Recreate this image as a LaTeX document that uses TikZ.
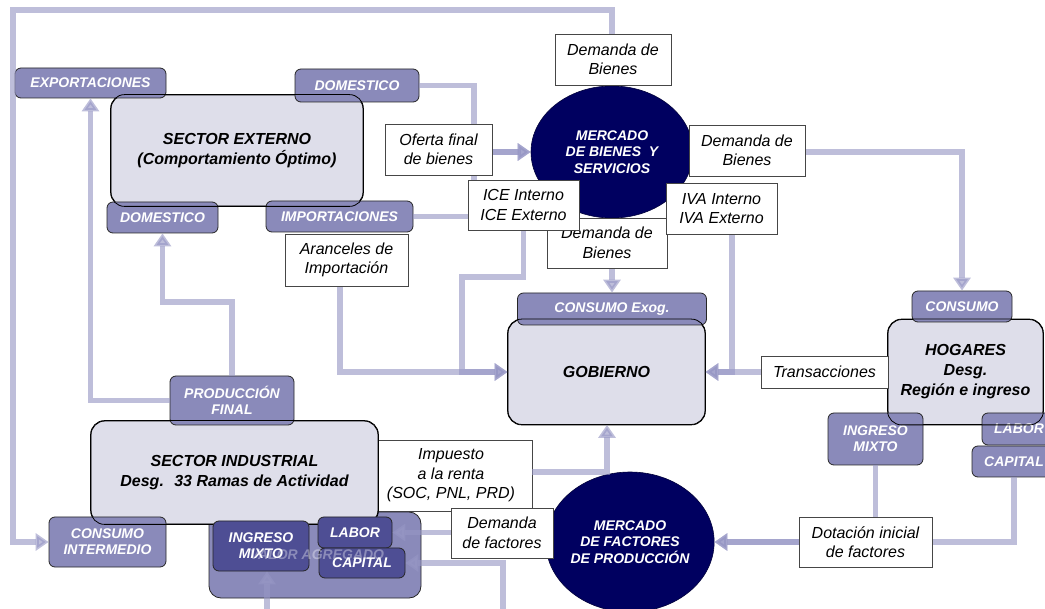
\documentclass[tikz,border=0pt]{standalone}
\usepackage{fontspec}
\setmainfont{Liberation Sans}
\usetikzlibrary{arrows.meta,shapes.geometric}
\definecolor{mainfill}{RGB}{222,222,234}
\definecolor{tagfill}{RGB}{138,138,186}
\definecolor{darktag}{RGB}{78,78,148}
\definecolor{navyc}{RGB}{0,0,96}
\definecolor{flowc}{RGB}{150,150,196}
\definecolor{lblborder}{RGB}{70,70,70}
\pgfdeclarelayer{back}
\pgfdeclarelayer{boxes}
\pgfdeclarelayer{flows}
\pgfsetlayers{back,boxes,flows,main}
\begin{document}
\begin{tikzpicture}[x=1pt,y=-1pt,
  mainbox/.style={draw=black, line width=0.8pt, fill=mainfill, rounded corners=14pt, inner sep=0pt, align=center,
    font=\fontsize{16}{20}\selectfont\bfseries\itshape},
  mainoutline/.style={draw=black, line width=0.8pt, rounded corners=14pt},
  tagbox/.style={draw=black!85, line width=0.8pt, fill=tagfill, rounded corners=6pt, text=white, inner sep=0pt, align=center,
    font=\fontsize{14}{16}\selectfont\bfseries\itshape},
  darkbox/.style={tagbox, fill=darktag},
  market/.style={ellipse, fill=navyc, draw=navyc!60!black, line width=0.6pt, inner sep=0pt, text=white, align=center,
    font=\fontsize{14}{16.5}\selectfont\bfseries\itshape},
  lbl/.style={draw=lblborder, line width=0.9pt, fill=white, inner sep=0pt, align=center,
    font=\fontsize{16}{19.5}\selectfont\itshape},
  flow/.style={line width=5.5pt, draw=flowc, opacity=0.62},
  flowarrow/.style={-{Triangle[width=17pt,length=13pt]}}
]
\useasboundingbox (0,0) rectangle (1045,609);

\begin{pgfonlayer}{back}
% label behind the industrial sector box
\node[lbl, minimum width=162pt, minimum height=71pt] (imptx) at (451,475.5) {Impuesto\\a la renta\\(SOC, PNL, PRD)};
\end{pgfonlayer}

\begin{pgfonlayer}{boxes}
% main boxes
\node[mainbox, minimum width=252pt, minimum height=111pt] (se) at (237,150.5) {SECTOR EXTERNO\\(Comportamiento Óptimo)};
\node[tagbox, minimum width=212pt, minimum height=86pt, rounded corners=12pt] (va) at (315,555) {};
\node[mainbox, minimum width=287pt, minimum height=103pt] (si) at (234.5,472.5) {SECTOR INDUSTRIAL\\Desg.~ 33 Ramas de Actividad};
\node[mainbox, minimum width=197pt, minimum height=105pt] (gob) at (606.5,372) {GOBIERNO};
\node[mainbox, minimum width=155pt, minimum height=105pt] (hog) at (965.5,372) {HOGARES\\Desg.\\Región e ingreso};

% tags
\node[tagbox, minimum width=151pt, minimum height=30pt] (exp) at (90.5,83) {EXPORTACIONES};
\node[tagbox, minimum width=124pt, minimum height=33pt] (domT) at (357,85.5) {DOMESTICO};
\node[tagbox, minimum width=111pt, minimum height=31pt] (domB) at (162.5,217.5) {DOMESTICO};
\node[tagbox, minimum width=147pt, minimum height=31pt] (imp) at (339.5,216.5) {IMPORTACIONES};
\node[tagbox, minimum width=124pt, minimum height=49pt] (pf) at (232,400.5) {PRODUCCIÓN\\FINAL};
\node[tagbox, minimum width=117pt, minimum height=50pt] (ci) at (107.5,542) {CONSUMO\\INTERMEDIO};
\node[tagbox, minimum width=189pt, minimum height=32pt] (ce) at (612,309) {CONSUMO Exog.};
\node[tagbox, minimum width=100pt, minimum height=31pt] (conH) at (962,306.5) {CONSUMO};
\node[tagbox, minimum width=95pt, minimum height=52pt] (imH) at (875.5,439) {INGRESO\\MIXTO};
\node[tagbox, minimum width=74pt, minimum height=32pt] (labH) at (1019,429) {LABOR};
\node[tagbox, minimum width=84pt, minimum height=31pt] (capH) at (1014,461.5) {CAPITAL};

% main outlines on top of the tags
\draw[mainoutline] (se.south west) rectangle (se.north east);
\draw[mainoutline] (si.south west) rectangle (si.north east);
\draw[mainoutline] (gob.south west) rectangle (gob.north east);
\draw[mainoutline] (hog.south west) rectangle (hog.north east);

% value added components
\node[darkbox, minimum width=96pt, minimum height=50pt] (imV) at (261,546) {INGRESO\\MIXTO};
\node[darkbox, minimum width=74pt, minimum height=31pt] (labV) at (355,532.5) {LABOR};
\node[darkbox, minimum width=86pt, minimum height=30pt] (capV) at (362,563) {CAPITAL};
\node[text=white, opacity=0.35, font=\fontsize{14}{16}\selectfont\bfseries\itshape] (vatext) at (317,555) {VALOR AGREGADO};

% markets
\node[market, minimum width=162pt, minimum height=132pt] (mb) at (612,152) {MERCADO\\DE BIENES~ Y\\SERVICIOS};
\node[market, minimum width=164pt, minimum height=140pt] (mf) at (630,542) {MERCADO\\DE FACTORES\\DE PRODUCCIÓN};
\end{pgfonlayer}

% labels
\node[lbl, minimum width=116pt, minimum height=51pt] (dbT) at (613,59.5) {Demanda de\\Bienes};
\node[lbl, minimum width=116pt, minimum height=51pt] (dbR) at (747,150.5) {Demanda de\\Bienes};
\node[lbl, minimum width=120pt, minimum height=50pt] (dbB) at (607,243) {Demanda de\\Bienes};
\node[lbl, minimum width=111pt, minimum height=50pt] (ice) at (523.5,205) {ICE Interno\\ICE Externo};
\node[lbl, minimum width=111pt, minimum height=51pt] (iva) at (721.5,208.5) {IVA Interno\\IVA Externo};
\node[lbl, minimum width=107pt, minimum height=51pt] (ofe) at (438.5,149.5) {Oferta final\\de bienes};
\node[lbl, minimum width=123pt, minimum height=52pt] (ara) at (346.5,260) {Aranceles de\\Importación};
\node[lbl, minimum width=102pt, minimum height=50pt] (dfac) at (502,533) {Demanda\\de factores};
\node[lbl, minimum width=127pt, minimum height=32pt] (trans) at (824.5,372) {Transacciones};
\node[lbl, minimum width=133pt, minimum height=50pt] (dot) at (865.5,542) {Dotación inicial\\de factores};

% coordinates
\coordinate (f1) at (612,10);
\coordinate (f2) at (13,10);
\coordinate (j1) at (474,152);
\coordinate (a1) at (340,372);
\coordinate (i1) at (462,277);
\coordinate (v1) at (732,372);
\coordinate (t1) at (607,472);
\coordinate (p1) at (232,302);
\coordinate (b1) at (267,609);
\coordinate (b2) at (503,609);

% flows
\begin{pgfonlayer}{flows}
\draw[flow, flowarrow] (mb.north) -- (f1) -- (f2) |- (ci.west);
\draw[flow, flowarrow] (mb.east) -- (mb.east -| conH.north) -- (conH.north);
\draw[flow, flowarrow] (mb.south) -- (ce.north);
\draw[flow, flowarrow] (domT.east) -| (j1) -- (mb.west);
\draw[flow, flowarrow] (imp.east) -| (j1) -- (mb.west);
\draw[flow, flowarrow] (ara.south -| a1) -- (a1) -- (gob.west);
\draw[flow, flowarrow] (ice.south) |- (i1) |- (gob.west);
\draw[flow, flowarrow] (iva.south -| v1) -- (v1) -- (gob.east);
\draw[flow, flowarrow] (hog.west) -- (gob.east);
\draw[flow, flowarrow] (imptx.east |- t1) -- (t1) -- (t1 |- gob.south);
\draw[flow, flowarrow] (pf.west) -| (exp.south);
\draw[flow, flowarrow] (pf.north) -- (p1) -| (domB.south);
\draw[flow, flowarrow] (imH.south) |- (mf.east);
\draw[flow, flowarrow] (capH.south) |- (mf.east);
\draw[flow, flowarrow] (mf.west |- labV.east) -- (labV.east);
\draw[flow, flowarrow] (b2) |- (capV.east);
\draw[flow, flowarrow] (b1) -- (b1 |- imV.south);
\end{pgfonlayer}
\end{tikzpicture}
\end{document}
